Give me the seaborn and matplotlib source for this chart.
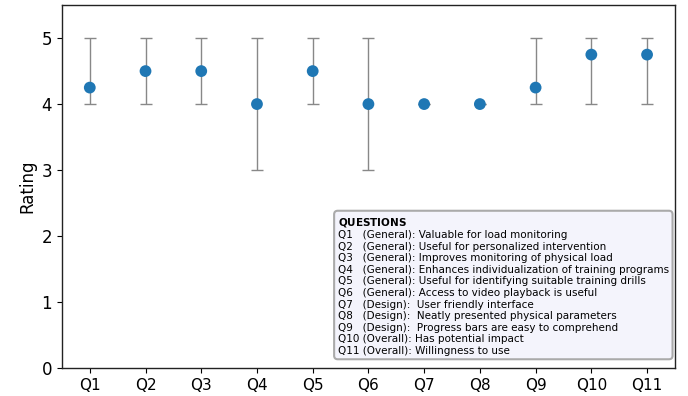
import matplotlib
matplotlib.use("Agg")
import matplotlib.pyplot as plt
import seaborn as sns
import numpy as np
import pandas as pd

questions = ["Q1", "Q2", "Q3", "Q4", "Q5", "Q6", "Q7", "Q8", "Q9", "Q10", "Q11"]
medians = [4.25, 4.5, 4.5, 4.0, 4.5, 4.0, 4.0, 4.0, 4.25, 4.75, 4.75]
mins = [4, 4, 4, 3, 4, 3, 4, 4, 4, 4, 4]
maxs = [5, 5, 5, 5, 5, 5, 4, 4, 5, 5, 5]
legend_title = "QUESTIONS"
legend_lines = [
    "Q1   (General): Valuable for load monitoring",
    "Q2   (General): Useful for personalized intervention",
    "Q3   (General): Improves monitoring of physical load",
    "Q4   (General): Enhances individualization of training programs",
    "Q5   (General): Useful for identifying suitable training drills",
    "Q6   (General): Access to video playback is useful",
    "Q7   (Design):  User friendly interface",
    "Q8   (Design):  Neatly presented physical parameters",
    "Q9   (Design):  Progress bars are easy to comprehend",
    "Q10 (Overall): Has potential impact",
    "Q11 (Overall): Willingness to use",
]

sns.set_style("ticks")
plt.rcParams['font.family'] = ['DejaVu Sans']
plt.rcParams['mathtext.fontset'] = 'dejavusans'
plt.rcParams['text.color'] = 'black'
plt.rcParams['axes.labelcolor'] = 'black'
plt.rcParams['xtick.color'] = 'black'
plt.rcParams['ytick.color'] = 'black'

df = pd.DataFrame({"Question": questions, "Rating": medians,
                   "lo": mins, "hi": maxs})

fig = plt.figure(figsize=(6.88, 3.96), dpi=100)
ax = fig.add_axes([0.090, 0.071, 0.891, 0.916])

yerr = np.array([df["Rating"] - df["lo"], df["hi"] - df["Rating"]])
ax.errorbar(np.arange(len(questions)), df["Rating"], yerr=yerr, fmt="none",
            ecolor="#888888", elinewidth=1.0, capsize=4, capthick=1.0, zorder=1)
sns.scatterplot(data=df, x="Question", y="Rating", ax=ax, color="#1f77b4",
                s=72, edgecolor="none", zorder=3)

ax.set_xlim(-0.5, len(questions) - 0.5)
ax.set_ylim(0, 5.5)
ax.set_yticks([0, 1, 2, 3, 4, 5])
ax.set_xlabel("")
ax.set_ylabel("Rating", fontsize=12)
ax.tick_params(axis="y", labelsize=12)
ax.tick_params(axis="x", labelsize=11)
for s in ax.spines.values():
    s.set_color("#222222")
    s.set_linewidth(1.0)

title_tex = r"$\bf{" + legend_title + "}$"
ax.text(0.450, 0.419, "\n".join([title_tex] + legend_lines),
        transform=ax.transAxes, fontsize=7.5, va="top", ha="left",
        linespacing=1.19, zorder=5,
        bbox=dict(boxstyle="round,pad=0.35", facecolor="#f4f4fc",
                  edgecolor="#aaaaaa", linewidth=1.5))

fig.savefig("out.png", dpi=100)
